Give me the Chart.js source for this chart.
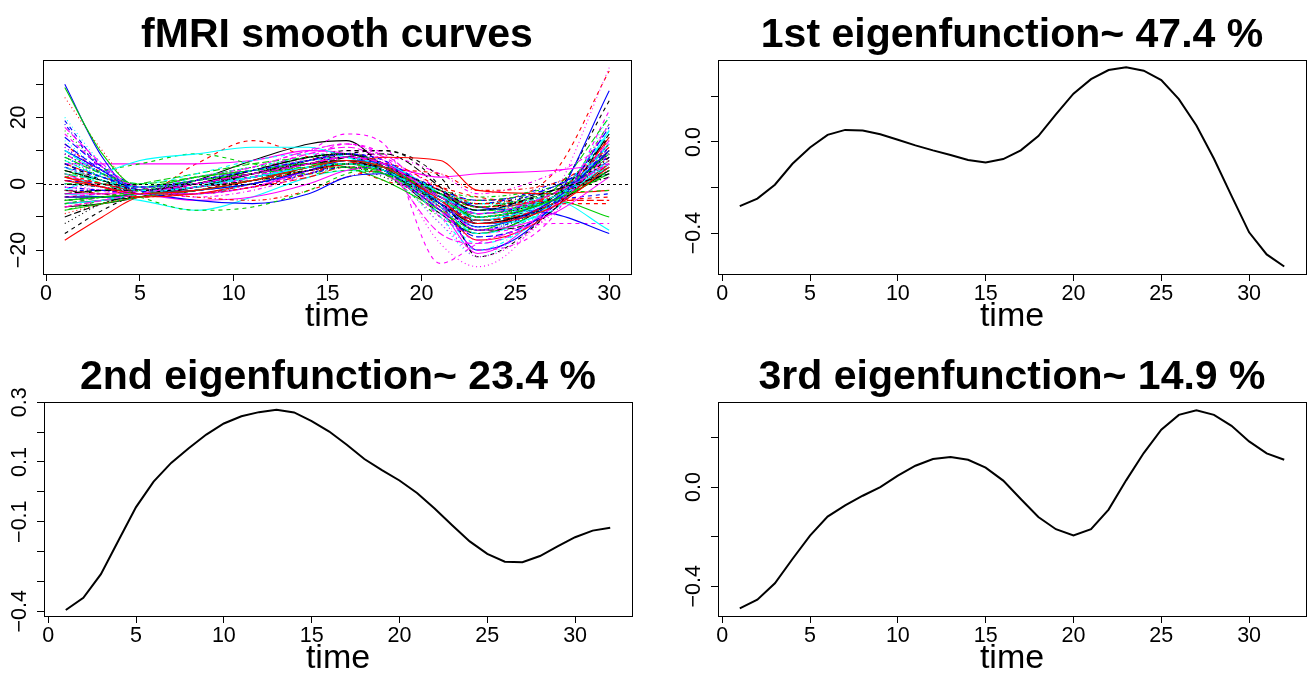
<!DOCTYPE html>
<html>
<head>
<meta charset="utf-8">
<script src="https://cdn.jsdelivr.net/npm/chart.js@4/dist/chart.umd.min.js"></script>
<style>
body{margin:0;background:#fff;}
#wrap{position:relative;width:1309px;height:675px;overflow:hidden;background:#fff;}
canvas{position:absolute;}
</style>
</head>
<body>
<div id="wrap">
<canvas id="c1" width="654" height="337" style="left:0px;top:0px"></canvas>
<canvas id="c2" width="655" height="337" style="left:654px;top:0px"></canvas>
<canvas id="c3" width="654" height="338" style="left:0px;top:337px"></canvas>
<canvas id="c4" width="655" height="338" style="left:654px;top:337px"></canvas>
</div>
<script>
// ---------------- DATA ----------------
const titles = ['fMRI smooth curves', '1st eigenfunction~ 47.4 %', '2nd eigenfunction~ 23.4 %', '3rd eigenfunction~ 14.9 %'];
const xAxisTitle = 'time';

// panel 1: smooth curves, values read at these time points
const fmriTime = [1, 3, 5, 8, 11, 14, 16, 18, 21, 23, 27, 30];
const fmriCurves = [
  [-7,-6,-4,1,7,12,13,5,-9,-15,-6,6],
  [12,3,-3,6,13,8,5,1,-3,-5,3,34],
  [16,5,-2,1,3,6,7,3,-6,-10,-3,10],
  [18,4,-3,0,2,5,7,4,-4,-6,0,8],
  [5,0,-2,1,4,7,8,3,-7,-12,-4,15],
  [6,6,6,6,7,10,9,3,-8,-21,-6,12],
  [-15,-8,-3,0,3,6,9,10,2,-12,-4,25],
  [26,10,-2,0,2,5,6,3,-3,-8,-4,4],
  [10,3,-1,2,4,5,6,3,-10,-14,-6,18],
  [14,5,-1,-3,0,4,6,5,-2,-5,-1,9],
  [-3,-4,-5,-8,-4,2,4,3,-4,-8,-5,-14],
  [2,0,-3,-1,3,10,15,12,-24,-18,-8,18],
  [3,1,-2,0,2,4,5,2,-6,-10,-5,5],
  [-5,-4,-3,-1,2,5,7,4,-5,-9,-3,13],
  [-3,-2,0,3,6,8,9,5,-4,-8,-2,20],
  [30,8,-3,-2,1,5,7,4,-6,-20,-6,28],
  [8,3,0,3,7,9,8,4,-9,-18,-8,12],
  [0,-2,-3,-2,2,8,10,7,-18,-25,-4,35],
  [4,1,-2,1,3,5,6,4,-3,-6,-2,3],
  [6,2,-1,-3,-1,2,5,5,-3,-8,-5,-5],
  [29,9,-1,2,4,6,5,1,-8,-14,-5,-10],
  [19,5,-2,-1,3,6,8,5,-3,-7,-1,8],
  [13,4,-1,1,3,6,7,4,-12,-22,-5,14],
  [9,3,-1,-4,-2,3,8,8,3,-3,3,12],
  [-10,-6,-3,-2,1,5,8,9,-1,-11,-6,10],
  [-17,-10,-4,-3,0,4,6,4,-7,-17,-8,14],
  [2,4,6,9,6,3,4,3,-5,-9,-3,8],
  [11,3,-2,1,4,7,8,4,-5,-10,-4,6],
  [-4,-3,-2,0,3,7,9,6,-10,-20,-5,16],
  [1,-1,-3,0,4,9,11,7,-8,-12,-5,10],
  [-6,-5,-4,-1,3,7,9,6,-3,-10,-5,5],
  [-4,-3,-2,0,3,5,6,4,-1,-4,-6,-6],
  [4,1,-1,2,5,7,8,5,-2,-6,-3,6],
  [-2,-2,-2,-1,1,3,6,6,-6,-14,-5,8],
  [7,2,-1,1,4,6,7,4,-4,-8,-3,3],
  [3,-1,-3,-5,-4,0,4,5,2,3,4,6],
  [-2,-3,-4,-2,2,7,10,10,-1,-22,-8,10],
  [9,3,-1,0,3,6,7,3,-7,-12,-4,4],
  [-8,-5,-3,-1,1,3,5,4,-3,-5,-2,2],
  [1,0,-2,1,4,7,9,6,-5,-11,-4,7],
  [-2,3,7,9,11,11,8,4,-6,-12,-8,16],
  [-1,-2,-3,-1,2,8,12,8,-10,-15,-12,-12],
  [-12,-6,-3,-1,2,5,7,5,-4,-9,-4,4],
  [5,1,-2,-4,-5,-2,2,4,3,-2,0,10],
  [0,0,-1,0,2,4,6,4,-8,-15,-5,12],
  [10,4,-2,-5,-6,-3,2,3,-3,-7,-9,-15],
  [2,0,-2,2,5,8,9,6,-2,-6,-3,9],
  [5,1,-2,1,4,7,9,6,-12,-20,-9,11],
  [0,-1,-2,0,2,4,5,3,-5,-12,-6,8],
  [-7,-5,-3,0,3,6,7,4,-3,-7,-3,11],
  [-8,-6,-4,-2,0,4,6,5,-5,-9,-4,9],
  [5,2,-2,-3,-1,3,6,5,-2,-9,-5,-3],
  [20,6,-1,0,3,5,6,3,-6,-10,-6,20],
  [-6,-4,-2,2,5,10,12,8,-2,-10,-4,3],
  [-3,-2,-2,0,4,8,9,6,-6,-14,-8,15],
  [2,-1,-4,-3,0,4,6,8,7,-2,-3,-2],
  [4,0,-4,-8,-7,-2,3,5,-3,-8,-4,10],
  [8,2,-2,-1,2,5,7,4,-4,-9,-3,5],
  [-5,-4,-3,-3,0,4,6,4,-5,-9,-3,4],
  [17,6,-1,1,4,7,8,5,-15,-18,-7,13],
  [-4,-4,-3,0,4,8,9,5,-6,-12,-6,4],
  [3,0,-2,-1,1,4,6,5,-2,-7,-5,-4],
  [7,2,-1,2,5,8,9,6,-5,-13,-6,10],
  [-1,-2,-3,-2,0,3,5,4,-4,-8,-2,6],
  [10,3,-1,0,2,5,7,5,-7,-15,-6,12],
  [-3,-3,-3,-3,-1,4,7,6,-5,-14,-9,2],
  [6,1,-3,-1,3,7,8,4,-6,-11,-4,14],
  [-9,-6,-4,-2,1,4,6,5,-4,-10,-5,8],
  [3,1,-1,1,3,5,5,3,-2,-4,-1,5],
  [12,4,-2,-1,2,5,6,4,-8,-16,-7,17],
  [-6,-5,-3,-1,2,5,7,6,-3,-11,-5,6],
  [15,5,-1,1,5,10,12,9,-6,-20,-10,22],
  [1,-1,-2,1,4,6,7,5,-4,-9,-4,9],
  [-2,-3,-4,-3,-1,3,6,6,-1,-6,-4,7],
  [8,3,0,2,4,6,6,3,-5,-10,-5,4],
  [-4,-4,-3,-2,0,4,7,6,-6,-13,-5,10],
  [3,1,-1,1,4,7,8,5,-3,-9,-4,5],
  [11,4,-1,0,3,7,9,7,-10,-22,-8,18],
  [-5,-4,-3,-1,1,4,6,5,-2,-7,-3,2],
  [2,0,-2,0,3,6,8,6,-5,-11,-6,6],
  [-5,-4,-3,-2,1,5,7,5,-4,-10,-5,3],
  [6,2,-1,1,4,7,9,7,-4,-12,-6,11],
  [0,-1,-2,0,2,5,6,4,-6,-13,-6,7],
  [-4,-3,-2,-1,2,6,8,6,-8,-17,-7,9],
  [4,1,-2,0,3,6,7,4,-3,-8,-2,3],
  [1,-1,-3,-2,1,5,7,5,-5,-12,-7,5],
  [-6,-4,-2,1,3,5,6,4,-3,-7,-3,-2],
  [9,3,-1,0,3,6,8,6,-7,-14,-5,12],
  [5,1,-2,-1,2,5,6,4,-5,-10,-4,7],
  [-7,-5,-3,0,3,6,8,6,-4,-9,-3,6]
];

// eigenfunctions
const eigenTime = [1,2,3,4,5,6,7,8,9,10,11,12,13,14,15,16,17,18,19,20,21,22,23,24,25,26,27,28,29,30,31,32];
const eigen1 = [-0.282,-0.249,-0.188,-0.096,-0.024,0.031,0.053,0.050,0.034,0.010,-0.015,-0.037,-0.057,-0.079,-0.090,-0.075,-0.037,0.026,0.121,0.212,0.276,0.316,0.328,0.313,0.272,0.188,0.072,-0.074,-0.237,-0.397,-0.494,-0.547];
const eigen2 = [-0.396,-0.355,-0.276,-0.163,-0.051,0.034,0.097,0.146,0.192,0.229,0.253,0.267,0.275,0.266,0.237,0.202,0.158,0.110,0.073,0.038,-0.004,-0.056,-0.112,-0.166,-0.208,-0.234,-0.236,-0.215,-0.183,-0.152,-0.130,-0.120];
const eigen3 = [-0.489,-0.454,-0.388,-0.290,-0.196,-0.119,-0.074,-0.035,0.000,0.046,0.086,0.113,0.121,0.110,0.078,0.026,-0.048,-0.121,-0.170,-0.195,-0.170,-0.091,0.027,0.137,0.231,0.291,0.310,0.291,0.247,0.184,0.136,0.110];

// ticks
const xTicks = [0,5,10,15,20,25,30];
const xTickLabels = ['0','5','10','15','20','25','30'];
const fmriYTicks = [-20,-10,0,10,20,30];
const fmriYLabels = ['\u221220','','0','','20',''];
const eigen1YTicks = [-0.4,-0.2,0,0.2];
const eigen1YLabels = ['\u22120.4','','0.0',''];
const eigen2YTicks = [-0.4,-0.3,-0.2,-0.1,0,0.1,0.2,0.3];
const eigen2YLabels = ['\u22120.4','','','\u22120.1','','0.1','','0.3'];
const eigen3YTicks = [-0.4,-0.2,0,0.2];
const eigen3YLabels = ['\u22120.4','','0.0',''];

// ---------------- STYLE / RENDER ----------------
const FONT = '"Liberation Sans", Arial, Helvetica, sans-serif';
const palette = ['#000000','#FF0000','#00CD00','#0000FF','#00FFFF','#FF00FF'];
const ltys = [[],[4,4],[1,3],[1,3,4,3],[7,3]];

function rPlugin(p) {
  return {
    id: 'rstyle',
    afterDatasetsDraw(chart) {
      const {ctx, chartArea: a, scales: {y}} = chart;
      if (p.zeroLine) {
        const yy = Math.round(y.getPixelForValue(0)) + 0.5;
        ctx.save();
        ctx.strokeStyle = '#000'; ctx.lineWidth = 1; ctx.setLineDash([3,3]);
        ctx.beginPath(); ctx.moveTo(a.left, yy); ctx.lineTo(a.right, yy); ctx.stroke();
        ctx.restore();
      }
    },
    afterDraw(chart) {
      const {ctx, chartArea: a, scales: {x, y}} = chart;
      ctx.save();
      ctx.strokeStyle = '#000'; ctx.lineWidth = 1; ctx.setLineDash([]);
      ctx.strokeRect(Math.round(a.left) + 0.5, Math.round(a.top) + 0.5, Math.round(a.right - a.left), Math.round(a.bottom - a.top));
      ctx.fillStyle = '#000';
      // title
      ctx.font = 'bold 41px ' + FONT;
      ctx.textAlign = 'center'; ctx.textBaseline = 'alphabetic';
      ctx.fillText(p.title, (a.left + a.right) / 2, a.top - 13);
      // x tick labels
      ctx.font = '21.5px ' + FONT;
      p.xTicks.forEach((v, i) => {
        if (p.xLabels[i]) ctx.fillText(p.xLabels[i], x.getPixelForValue(v), a.bottom + 26);
      });
      // x axis title
      ctx.font = '34px ' + FONT;
      ctx.fillText(xAxisTitle, (a.left + a.right) / 2, a.bottom + 52);
      // y tick labels (rotated, R style)
      ctx.font = '21.5px ' + FONT;
      p.yTicks.forEach((v, i) => {
        const lab = p.yLabels[i];
        if (!lab) return;
        ctx.save();
        ctx.translate(a.left - 18, y.getPixelForValue(v));
        ctx.rotate(-Math.PI / 2);
        ctx.textAlign = 'center';
        ctx.fillText(lab, 0, 0);
        ctx.restore();
      });
      ctx.restore();
    }
  };
}

function makeChart(id, p) {
  const canvas = document.getElementById(id);
  const W = canvas.width, H = canvas.height;
  const TL = 7;
  return new Chart(canvas, {
    type: 'line',
    data: { datasets: p.datasets },
    options: {
      responsive: false,
      animation: false,
      devicePixelRatio: 1,
      events: [],
      layout: { padding: { left: p.area.l - TL, top: p.area.t, right: W - p.area.r, bottom: H - p.area.b - TL } },
      plugins: { legend: { display: false }, title: { display: false }, tooltip: { enabled: false } },
      elements: { point: { radius: 0 } },
      scales: {
        x: {
          type: 'linear', position: 'bottom', min: p.xMin, max: p.xMax,
          afterBuildTicks: s => { s.ticks = p.xTicks.map(v => ({ value: v })); },
          afterFit: s => { s.height = TL; },
          grid: { drawOnChartArea: false, drawTicks: true, tickLength: TL, color: '#000', lineWidth: 1 },
          border: { display: false },
          ticks: { display: false }
        },
        y: {
          type: 'linear', position: 'left', min: p.yMin, max: p.yMax,
          afterBuildTicks: s => { s.ticks = p.yTicks.map(v => ({ value: v })); },
          afterFit: s => { s.width = TL; },
          grid: { drawOnChartArea: false, drawTicks: true, tickLength: TL, color: '#000', lineWidth: 1 },
          border: { display: false },
          ticks: { display: false }
        }
      }
    },
    plugins: [rPlugin(p)]
  });
}

const fmriDatasets = fmriCurves.map((vals, i) => ({
  data: vals.map((v, j) => ({ x: fmriTime[j], y: v })),
  borderColor: palette[i % 6],
  borderDash: ltys[i % 5],
  borderWidth: 1.1,
  pointRadius: 0,
  fill: false,
  cubicInterpolationMode: 'monotone',
  order: fmriCurves.length - i
}));

function eigenDataset(vals) {
  return [{
    data: vals.map((v, j) => ({ x: eigenTime[j], y: v })),
    borderColor: '#000', borderWidth: 2, pointRadius: 0, fill: false, tension: 0
  }];
}

makeChart('c1', {
  title: titles[0], datasets: fmriDatasets, zeroLine: true,
  area: { l: 43, t: 60, r: 631, b: 274 },
  xMin: -0.16, xMax: 31.16, yMin: -27.2, yMax: 37.3,
  xTicks: xTicks, xLabels: xTickLabels, yTicks: fmriYTicks, yLabels: fmriYLabels
});
makeChart('c2', {
  title: titles[1], datasets: eigenDataset(eigen1),
  area: { l: 64, t: 60, r: 652, b: 274 },
  xMin: -0.24, xMax: 33.24, yMin: -0.58, yMax: 0.36,
  xTicks: xTicks, xLabels: xTickLabels, yTicks: eigen1YTicks, yLabels: eigen1YLabels
});
makeChart('c3', {
  title: titles[2], datasets: eigenDataset(eigen2),
  area: { l: 44, t: 65, r: 632, b: 279 },
  xMin: -0.24, xMax: 33.24, yMin: -0.416, yMax: 0.301,
  xTicks: xTicks, xLabels: xTickLabels, yTicks: eigen2YTicks, yLabels: eigen2YLabels
});
makeChart('c4', {
  title: titles[3], datasets: eigenDataset(eigen3),
  area: { l: 64, t: 65, r: 652, b: 279 },
  xMin: -0.24, xMax: 33.24, yMin: -0.52, yMax: 0.343,
  xTicks: xTicks, xLabels: xTickLabels, yTicks: eigen3YTicks, yLabels: eigen3YLabels
});
</script>
</body>
</html>
